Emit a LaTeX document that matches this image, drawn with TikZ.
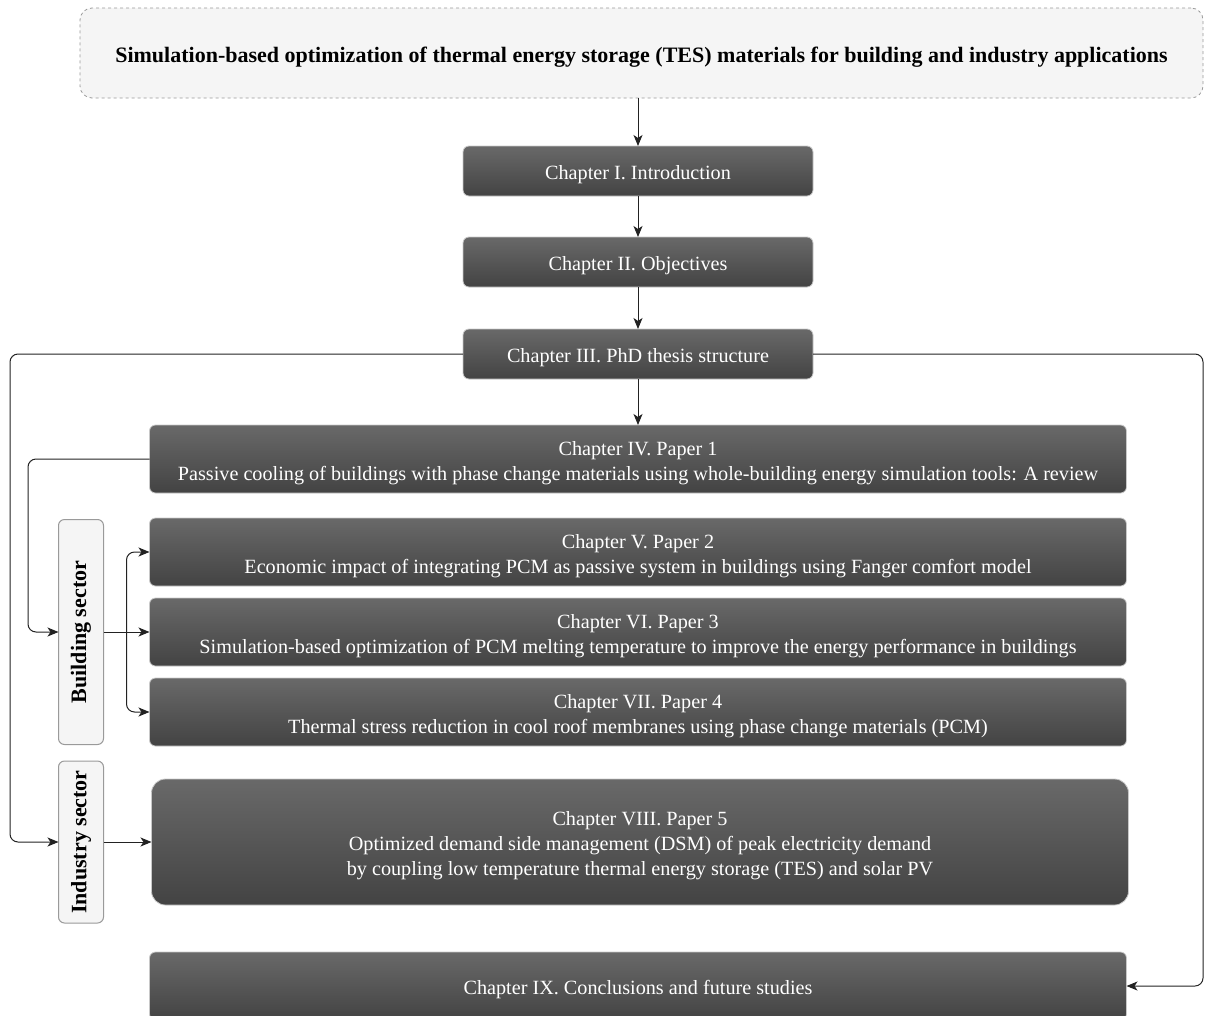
\documentclass[tikz,border=0pt]{standalone}
\usepackage{fontspec}
\setmainfont{Liberation Serif}
\usepackage{graphicx}
\usepackage{tikz}
\usetikzlibrary{arrows.meta,positioning}

\definecolor{boxtop}{HTML}{696969}
\definecolor{boxbot}{HTML}{434343}
\definecolor{boxedge}{HTML}{C8C8C8}
\definecolor{panel}{HTML}{F5F5F5}
\definecolor{panedge}{HTML}{9A9A9A}
\definecolor{wirecol}{HTML}{222222}

% strut that lowers the first text line a little
\newcommand{\lowstrut}{\rule{0pt}{22pt}}

\begin{document}
\begin{tikzpicture}[->,>={Stealth[length=11pt,width=9pt,inset=3pt]},x=1pt,y=1pt,
    font=\fontsize{20.2pt}{25pt}\selectfont,
    heading/.style={draw=panedge,dashed,fill=panel,line width=0.8pt,rounded corners=12pt,
        minimum width=1123pt,minimum height=90pt,outer sep=0pt,
        execute at begin node={\rule{0pt}{23pt}},
        font=\fontsize{22pt}{26pt}\selectfont\bfseries},
    chap/.style={draw=boxedge,line width=0.8pt,rounded corners=6pt,top color=boxtop,
        bottom color=boxbot,text=white,inner sep=2pt,outer sep=0pt},
    small/.style={chap,minimum width=350pt,minimum height=50pt,
        execute at begin node={\lowstrut}},
    wide/.style={chap,align=center,minimum width=977pt,minimum height=68pt},
    sector/.style={draw=panedge,fill=panel,line width=1pt,rounded corners=6pt,outer sep=0pt,
        minimum width=45pt,inner sep=0pt,font=\fontsize{22pt}{26pt}\selectfont\bfseries},
    wire/.style={draw=wirecol,line width=1pt,rounded corners=8pt}]

\useasboundingbox (0,0) rectangle (1205,-1015);

\node[heading] (title) at (641.5,-53) {Simulation-based optimization of thermal energy storage (TES) materials for building and industry applications};
\node[small,below=48pt of title,xshift=-3.5pt] (ch1) {Chapter I. Introduction};
\node[small,below=41pt of ch1] (ch2) {Chapter II. Objectives};
\node[small,below=42pt of ch2] (ch3) {Chapter III. PhD thesis structure};
\node[wide,below=46pt of ch3] (ch4) {\lowstrut Chapter IV. Paper 1\\Passive cooling of buildings with phase change materials using whole-building energy simulation tools: A review};
\node[wide,below=25pt of ch4] (ch5) {\lowstrut Chapter V. Paper 2\\Economic impact of integrating PCM as passive system in buildings using Fanger comfort model};
\node[wide,below=12pt of ch5] (ch6) {\lowstrut Chapter VI. Paper 3\\Simulation-based optimization of PCM melting temperature to improve the energy performance in buildings};
\node[wide,below=12pt of ch6] (ch7) {\lowstrut Chapter VII. Paper 4\\Thermal stress reduction in cool roof membranes using phase change materials (PCM)};
\node[wide,minimum height=126pt,rounded corners=14pt,below=33pt of ch7,xshift=2pt] (ch8) {\lowstrut Chapter VIII. Paper 5\\Optimized demand side management (DSM) of peak electricity demand\\by coupling low temperature thermal energy storage (TES) and solar PV};
\node[small,minimum width=977pt,minimum height=68pt,below=47pt of ch8,xshift=-2pt] (ch9) {Chapter IX. Conclusions and future studies};

\node[sector,minimum height=225pt,left=46pt of ch6] (bld) {\rotatebox{90}{Building sector}};
\node[sector,minimum height=162pt,left=48pt of ch8] (ind) {\rotatebox{90}{Industry sector}};

\coordinate (leftrail) at (10,0);
\coordinate (innerrail) at (28,0);
\coordinate (rightrail) at (1203,0);
\coordinate[right=23pt of bld.east] (fork);

\draw[wire] (title.south -| ch1.north) -- (ch1.north);
\draw[wire] (ch1) -- (ch2);
\draw[wire] (ch2) -- (ch3);
\draw[wire] (ch3) -- (ch4);
\draw[wire] (ch3.west) -- (ch3.west -| leftrail) |- (ind.west);
\draw[wire] (ch3.east) -- (ch3.east -| rightrail) |- (ch9.east);
\draw[wire] (ch4.west) -- (ch4.west -| innerrail) |- (bld.west);
\draw[wire] (bld.east) -- (ch6.west);
\draw[wire] (fork) |- (ch5.west);
\draw[wire] (fork) |- (ch7.west);
\draw[wire] (ind.east) -- (ch8.west);

\end{tikzpicture}
\end{document}
